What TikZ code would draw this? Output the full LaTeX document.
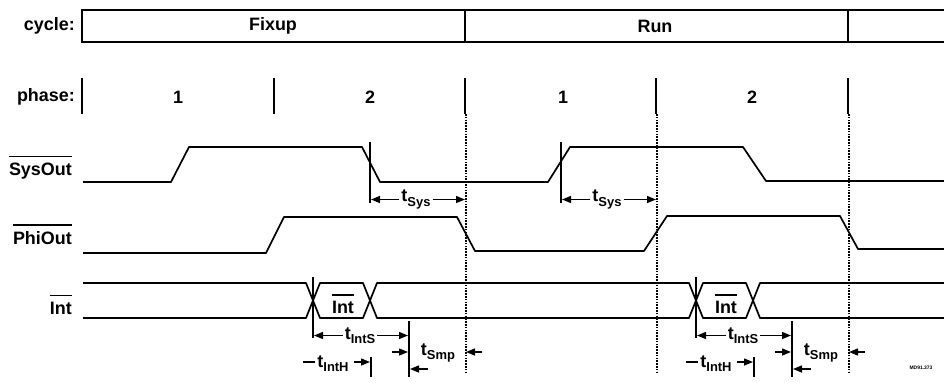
\documentclass[tikz,border=0pt]{standalone}
\usepackage{fontspec}
\setmainfont{Liberation Sans}
\usetikzlibrary{arrows.meta}
\newcommand\ovl[1]{\leavevmode\vbox{\hrule height 1.2pt \vskip 5.5pt \hbox{#1}}}
\newcommand\tsub[1]{t\raisebox{-0.45ex}{\fontsize{13}{13}\selectfont #1}}
\begin{document}
\begin{tikzpicture}[x=1bp,y=-1bp,
  lbl/.style={font=\fontsize{18}{18}\selectfont\bfseries, inner sep=0pt},
  tl/.style={font=\fontsize{18}{18}\selectfont\bfseries, inner sep=2pt},
  boxline/.style={line width=1.4bp},
  tickline/.style={line width=1.6bp},
  wave/.style={line width=1.7bp, line join=round},
  marker/.style={line width=1.4bp},
  dots/.style={line width=1.5bp, dash pattern=on 1.5bp off 1.3bp},
  dim/.style={line width=1.4bp, -{Triangle[length=9bp,width=7bp]}},
  plain/.style={line width=1.4bp}]
\useasboundingbox (0,0) rectangle (944,382);
% cycle row
\node[lbl, anchor=east] (cyclelbl) at (75,26) {cycle:};
\draw[boxline] (944,10) -- (82,10) -- (82,42) -- (944,42);
\draw[boxline] (465,10) -- (465,42);
\draw[boxline] (848,10) -- (848,42);
\node[lbl] (fixup) at (273,26) {Fixup};
\node[lbl] (run) at (655,26) {Run};
% phase row
\node[lbl, anchor=east] (phaselbl) at (75,97) {phase:};
\foreach \x in {82,274,465,656,848} \draw[tickline] (\x,78) -- (\x,114);
\node[lbl] (ph1a) at (178,97) {1};
\node[lbl] (ph2a) at (370,97) {2};
\node[lbl] (ph1b) at (563,97) {1};
\node[lbl] (ph2b) at (752,97) {2};
% dotted guides
\foreach \x in {466,657,849} \draw[dots] (\x,114) -- (\x,373);
% signal labels
\node[lbl, anchor=base east] (syslbl) at (72,175) {\ovl{SysOut}};
\node[lbl, anchor=base east] (philbl) at (72,244) {\ovl{PhiOut}};
\node[lbl, anchor=base east] (intlbl) at (72,314) {\ovl{Int}};
% SysOut
\draw[wave] (83,182) -- (171,182) -- (189,147) -- (362,147) -- (380,182) -- (548,182) -- (570,147) -- (743,147) -- (766,181) -- (944,181);
% PhiOut
\draw[wave] (83,253) -- (266,253) -- (284,217) -- (457,217) -- (475,251) -- (644,251) -- (667,216) -- (840,216) -- (858,249) -- (944,249);
% Int bus
\draw[wave] (83,283) -- (306,283) -- (320,318) -- (363,318) -- (377,283) -- (689,283) -- (703,318) -- (746,318) -- (760,283) -- (944,283);
\draw[wave] (83,318) -- (306,318) -- (320,283) -- (363,283) -- (377,318) -- (689,318) -- (703,283) -- (746,283) -- (760,318) -- (944,318);
% SysOut timing
\foreach \m/\g/\k in {370/466/a,561/657/b}{
  \draw[marker] (\m,142) -- (\m,203);
  \coordinate (sysl-\k) at (\m+1,199);
  \coordinate (sysr-\k) at (\g-1,199);
  \node[tl] (tsys-\k) at ({(\m+\g)/2-2},199.5) {\tsub{Sys}};
  \draw[dim] (tsys-\k.west) -- (tsys-\k.west -| sysl-\k);
  \draw[dim] (tsys-\k.east) -- (tsys-\k.east -| sysr-\k);
}
% Int timing
\foreach \o/\k in {0/a,383/b}{
  \node[lbl] (intbus-\k) at (343+\o,304) {\ovl{Int}};
  \draw[marker] (313+\o,277) -- (313+\o,338);
  \draw[marker] (409+\o,321) -- (409+\o,377);
  \draw[marker] (371+\o,357) -- (371+\o,377);
  % tIntS
  \coordinate (isl-\k) at (314+\o,334);
  \coordinate (isr-\k) at (408+\o,334);
  \node[tl] (tints-\k) at (360+\o,335.5) {\tsub{IntS}};
  \draw[dim] (tints-\k.west) -- (tints-\k.west -| isl-\k);
  \draw[dim] (tints-\k.east) -- (tints-\k.east -| isr-\k);
  % tSmp
  \node[tl] (tsmp-\k) at (438+\o,353) {\tsub{Smp}};
  \coordinate (sma-\k) at (392+\o,352);
  \coordinate (smb-\k) at (408+\o,352);
  \coordinate (smc-\k) at (482+\o,352);
  \coordinate (smd-\k) at (466+\o,352);
  \coordinate (sme-\k) at (428+\o,369);
  \coordinate (smf-\k) at (410+\o,369);
  \draw[dim] (sma-\k) -- (smb-\k);
  \draw[dim] (smc-\k) -- (smd-\k);
  \draw[dim] (sme-\k) -- (smf-\k);
  % tIntH
  \node[tl] (tinth-\k) at (333+\o,364) {\tsub{IntH}};
  \coordinate (iha-\k) at (303+\o,362);
  \coordinate (ihb-\k) at (354+\o,362);
  \coordinate (ihc-\k) at (370+\o,362);
  \draw[plain] (iha-\k) -- (iha-\k -| tinth-\k.west);
  \draw[dim] (ihb-\k) -- (ihc-\k);
}
\node[font=\fontsize{5}{5}\selectfont\bfseries, inner sep=0pt] (figid) at (921,368) {MD91.373};
\end{tikzpicture}
\end{document}
